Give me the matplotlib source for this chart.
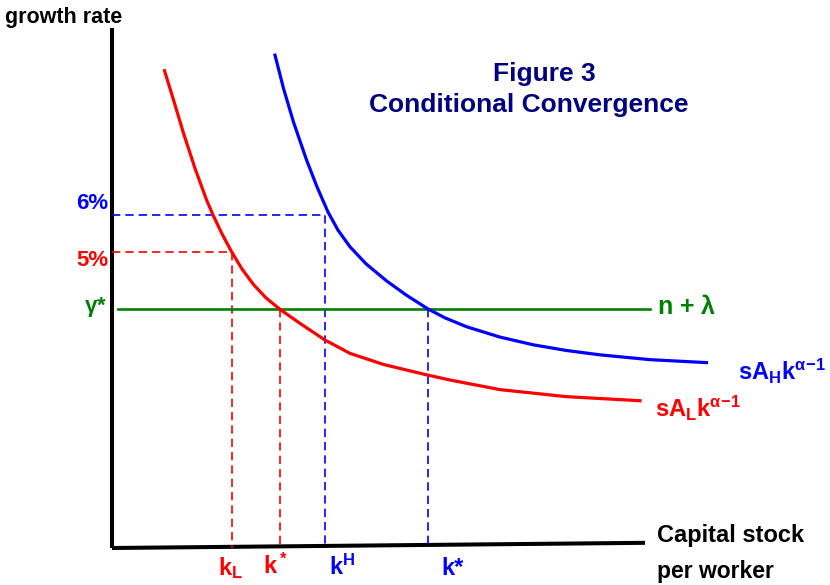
import matplotlib
matplotlib.use("Agg")
import matplotlib.pyplot as plt

plt.rcParams['font.family'] = ['Liberation Sans', 'DejaVu Sans']
plt.rcParams['font.weight'] = 'bold'
plt.rcParams['mathtext.fontset'] = 'custom'
plt.rcParams['mathtext.rm'] = 'Liberation Sans:bold'
plt.rcParams['mathtext.it'] = 'Liberation Sans:bold'
plt.rcParams['mathtext.bf'] = 'Liberation Sans:bold'
plt.rcParams['mathtext.sf'] = 'Liberation Sans:bold'

# courbe sA_L k^(alpha-1) (pays pauvre)
red_k = [1.05, 1.23, 1.43, 1.66, 1.89, 2.02, 2.20, 2.39, 2.60, 2.83, 3.08,
         3.36, 3.76, 4.26, 4.76, 5.43, 6.29, 6.76, 7.76, 9.09, 10.56]
red_g = [9.90, 9.11, 8.21, 7.26, 6.41, 6.00, 5.49, 5.01, 4.54, 4.12, 3.76,
         3.45, 3.07, 2.62, 2.26, 1.96, 1.68, 1.54, 1.28, 1.09, 0.98]

# courbe sA_H k^(alpha-1) (pays riche)
blue_k = [3.26, 3.43, 3.63, 3.89, 4.10, 4.32, 4.52, 4.76, 5.08, 5.49, 5.88,
          6.32, 6.66, 7.09, 7.76, 8.43, 9.08, 9.76, 10.76, 11.89]
blue_g = [10.32, 9.42, 8.51, 7.49, 6.76, 6.08, 5.59, 5.14, 4.68, 4.22, 3.84,
          3.46, 3.22, 2.98, 2.70, 2.49, 2.34, 2.22, 2.09, 2.01]

gamma_star = 3.46   # n + lambda
rate_H = 6.0        # 6%
rate_L = 5.0        # 5%
k_L = 2.40
k_star_L = 3.36
k_H = 4.26
k_star_H = 6.32

axis_bottom = -3.0
green_span = [0.12, 10.76]

fig = plt.figure(figsize=(8.3, 5.85), dpi=100)
ax = fig.add_axes([0, 0, 1, 1])
ax.set_xlim(-2.24, 14.36)
ax.set_ylim(-4.0, 11.81)
ax.axis('off')

red = '#ff0000'
blue = '#0000ff'
green = '#008000'
navy = '#000080'

# axes
ax.plot([0, 0], [11.05, axis_bottom], color='black', lw=2.9, solid_capstyle='butt')
ax.plot([0, 10.66], [axis_bottom, -2.86], color='black', lw=2.9, solid_capstyle='butt')

# pointillés
ax.plot([0, k_H, k_H], [rate_H, rate_H, axis_bottom], color=blue, lw=1.2, dashes=[5, 3])
ax.plot([0, k_L, k_L], [rate_L, rate_L, axis_bottom], color=red, lw=1.2, dashes=[5, 3])
ax.plot([k_star_L, k_star_L], [gamma_star, axis_bottom], color=red, lw=1.2, dashes=[5, 3])
ax.plot([k_star_H, k_star_H], [gamma_star, axis_bottom], color=blue, lw=1.2, dashes=[5, 3])

# n + lambda
ax.plot(green_span, [gamma_star, gamma_star], color=green, lw=1.9)

# courbes
ax.plot(red_k, red_g, color=red, lw=2.3, solid_joinstyle='round')
ax.plot(blue_k, blue_g, color=blue, lw=2.3, solid_joinstyle='round')

# textes
ax.text(-2.14, 11.35, 'growth rate', fontsize=15.5, ha='left', va='center', color='black')
ax.text(8.64, 9.80, 'Figure 3', fontsize=19, ha='center', va='center', color=navy)
ax.text(8.34, 8.96, 'Conditional Convergence', fontsize=19, ha='center', va='center', color=navy)

ax.text(-0.08, 6.30, '6%', fontsize=16, ha='right', va='center', color=blue)
ax.text(-0.08, 4.78, '5%', fontsize=16, ha='right', va='center', color=red)
ax.text(-0.1, 3.51, r'$\gamma$*', fontsize=16, ha='right', va='center', color=green)
ax.text(10.9, 3.51, r'n + $\lambda$', fontsize=18, ha='left', va='center', color=green)

ax.text(12.52, 1.54, r'$\mathregular{sA_Hk^{\alpha\!-\!1}}$', fontsize=17, ha='left', va='baseline', color=blue)
ax.text(10.86, 0.54, r'$\mathregular{sA_Lk^{\alpha\!-\!1}}$', fontsize=17, ha='left', va='baseline', color=red)

ax.text(2.12, -3.73, r'$\mathregular{k_L}$', fontsize=17, ha='left', va='baseline', color=red)
ax.text(3.02, -3.70, r'$\mathregular{k^*}$', fontsize=17, ha='left', va='baseline', color=red)
ax.text(4.34, -3.73, r'$\mathregular{k^H}$', fontsize=17, ha='left', va='baseline', color=blue)
ax.text(6.58, -3.73, 'k*', fontsize=17, ha='left', va='baseline', color=blue)

ax.text(10.9, -2.67, 'Capital stock', fontsize=17, ha='left', va='center', color='black')
ax.text(10.9, -3.64, 'per worker', fontsize=16.5, ha='left', va='center', color='black')

fig.savefig('out.png', dpi=100)
